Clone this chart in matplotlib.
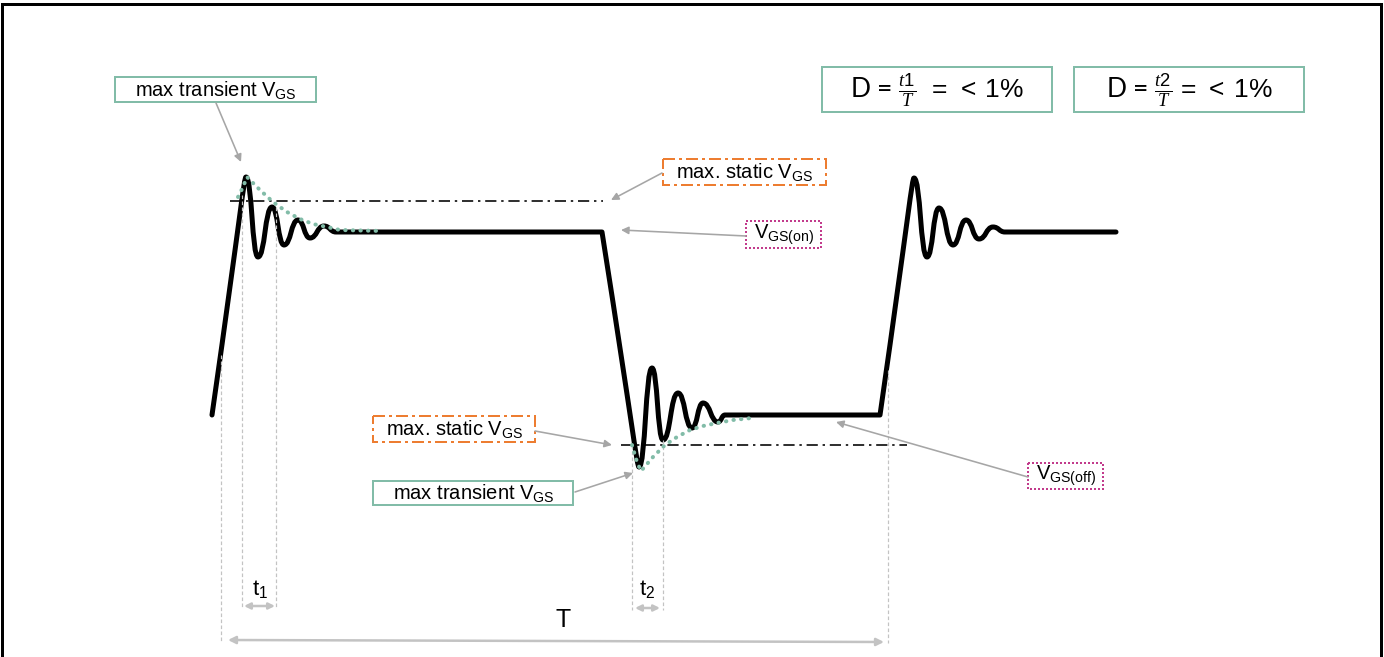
#!/usr/bin/env python3
"""Gate-source voltage waveform: transient overshoot vs. static limits."""
import matplotlib
matplotlib.use("Agg")
import matplotlib.pyplot as plt
from matplotlib.path import Path
from matplotlib.patches import PathPatch, Rectangle

# waveform nodes in picture units (x right, y down); smooth=1 -> bezier with flat tangent
wave_x = [212, 246, 258, 272, 284, 298, 310, 324, 336, 602,
          639, 652, 663, 678, 692, 703, 718, 725, 880,
          914, 927, 939, 953, 966, 979, 993, 1005, 1116]
wave_y = [415, 177, 257, 207, 245, 220, 238, 226, 232, 232,
          467, 368, 440, 393, 428, 403, 422, 415, 415,
          178, 257, 208, 245, 220, 239, 227, 232, 232]
wave_smooth = [0, 1, 1, 1, 1, 1, 1, 1, 1, 0,
               1, 1, 1, 1, 1, 1, 1, 1, 0,
               1, 1, 1, 1, 1, 1, 1, 1, 0]

# decay envelopes (dotted green)
env_on_x = [238, 243, 247, 260, 273, 287, 300, 313, 327, 340, 383]
env_on_y = [197, 187, 177, 190, 202, 212, 219, 224, 227, 230, 231]
env_off_x = [632, 637, 641, 653, 665, 677, 690, 703, 717, 733, 752]
env_off_y = [445, 462, 471, 457, 445, 437, 430, 426, 423, 420, 418]

# static limits
static_on = 201
static_off = 445

# time markers
t_left, t_right = 221, 888
t1_edges = [242, 276]
t2_edges = [632, 663]

GREEN = "#82bca8"
ORANGE = "#ed7d31"
MAGENTA = "#c23b8c"
GREY = "#a6a6a6"
LIGHT = "#c3c3c3"
PX = 0.72  # points per pixel at dpi 100

plt.rcParams["font.family"] = ["Liberation Sans", "DejaVu Sans"]
plt.rcParams["mathtext.fontset"] = "custom"
plt.rcParams["mathtext.rm"] = "Liberation Sans"
plt.rcParams["mathtext.it"] = "Liberation Serif:italic"
plt.rcParams["mathtext.bf"] = "Liberation Sans:bold"


def wave_path(xs, ys, smooth):
    verts = [(xs[0], ys[0])]
    codes = [Path.MOVETO]
    for i in range(1, len(xs)):
        x0, y0 = xs[i - 1], ys[i - 1]
        x1, y1 = xs[i], ys[i]
        if smooth[i] and smooth[i - 1]:
            dx = (x1 - x0) * 0.5
            verts += [(x0 + dx, y0), (x1 - dx, y1), (x1, y1)]
            codes += [Path.CURVE4] * 3
        elif smooth[i]:
            # straight edge running into a rounded extremum
            k = 0.85
            verts += [(x0 + (x1 - x0) * k, y0 + (y1 - y0) * k), (x1 - 2, y1), (x1, y1)]
            codes += [Path.CURVE4] * 3
        else:
            verts.append((x1, y1))
            codes.append(Path.LINETO)
    return Path(verts, codes)


def box(ax, x0, y0, x1, y1, color, ls):
    ax.add_patch(Rectangle((x0, y0), x1 - x0, y1 - y0, fill=False,
                           edgecolor=color, lw=2 * PX, linestyle=ls))


def arrow(ax, start, end, color=GREY, lw=1.6, style="-|>", ms=11):
    ax.annotate("", xy=end, xytext=start,
                arrowprops=dict(arrowstyle=style, color=color, lw=lw * PX,
                                mutation_scale=ms, shrinkA=0, shrinkB=0))


fig = plt.figure(figsize=(13.84, 6.57), dpi=100)
ax = fig.add_axes([0, 0, 1, 1])
ax.set_xlim(0, 1384)
ax.set_ylim(657, 0)
ax.axis("off")

# frame
ax.plot([2, 2, 1381, 1381], [657, 4, 4, 657], color="black", lw=3 * PX,
        solid_joinstyle="miter")

# vertical dashed markers
vdash = dict(color=LIGHT, lw=1.2 * PX, linestyle=(0, (3, 2)))
ax.plot([t_left, t_left], [355, 641], **vdash)
ax.plot([t_right, t_right], [370, 643], **vdash)
ax.plot([t1_edges[0], t1_edges[0]], [195, 607], **vdash)
ax.plot([t1_edges[1], t1_edges[1]], [207, 607], **vdash)
ax.plot([t2_edges[0], t2_edges[0]], [445, 610], **vdash)
ax.plot([t2_edges[1], t2_edges[1]], [440, 610], **vdash)

# static limit lines
dashdot = dict(color="black", lw=1.6 * PX, linestyle=(0, (7, 3, 1.5, 3)))
ax.plot([230, 603], [static_on, static_on], **dashdot)
ax.plot([621, 907], [static_off, static_off], **dashdot)

# waveform
ax.add_patch(PathPatch(wave_path(wave_x, wave_y, wave_smooth), fill=False,
                       edgecolor="black", lw=5 * PX, capstyle="round",
                       joinstyle="round"))

# envelopes
dots = dict(color=GREEN, lw=4 * PX, linestyle=(0, (0.1, 1.8)),
            dash_capstyle="round")
ax.plot(env_on_x, env_on_y, **dots)
ax.plot(env_off_x, env_off_y, **dots)

# labels
lab = dict(fontsize=14.5, ha="center", va="center")
box(ax, 115, 77, 316, 102, GREEN, "-")
ax.text(216, 90, r"max transient V$_{\mathrm{GS}}$", **lab)
arrow(ax, (216, 103), (241, 162))

box(ax, 663, 159, 826, 185, ORANGE, (0, (6, 2, 1.5, 2)))
ax.text(745, 172, r"max. static V$_{\mathrm{GS}}$", **lab)
arrow(ax, (662, 173), (611, 200))

box(ax, 746, 221, 821, 248, MAGENTA, (0, (1, 1)))
ax.text(784, 235, r"V$_{\mathrm{GS(on)}}$", **lab)
arrow(ax, (746, 236), (621, 230))

box(ax, 373, 416, 535, 442, ORANGE, (0, (6, 2, 1.5, 2)))
ax.text(455, 429, r"max. static V$_{\mathrm{GS}}$", **lab)
arrow(ax, (535, 431), (612, 445))

box(ax, 373, 481, 573, 505, GREEN, "-")
ax.text(474, 493, r"max transient V$_{\mathrm{GS}}$", **lab)
arrow(ax, (575, 492), (633, 473))

box(ax, 1028, 463, 1103, 489, MAGENTA, (0, (1, 1)))
ax.text(1066, 476, r"V$_{\mathrm{GS(off)}}$", **lab)
arrow(ax, (1028, 477), (836, 422))

# duty cycle boxes
dfont = dict(fontsize=19, family=["Lato", "DejaVu Sans"], ha="center", va="center")
box(ax, 822, 67, 1052, 112, GREEN, "-")
ax.text(937, 90, r"D = $\frac{t1}{T}\;\;=\;<\;1\%$", **dfont)
box(ax, 1074, 67, 1304, 112, GREEN, "-")
ax.text(1189, 90, r"D = $\frac{t2}{T}\,=\;<\;1\%$", **dfont)

# time spans
arrow(ax, (t1_edges[0] + 2, 606), (t1_edges[1] - 1, 606), color=LIGHT, lw=2.5,
      style="<|-|>", ms=9)
arrow(ax, (t2_edges[0] + 3, 608), (t2_edges[1] - 3, 608), color=LIGHT, lw=2.5,
      style="<|-|>", ms=9)
arrow(ax, (t_left + 7, 640), (t_right - 4, 642), color=LIGHT, lw=2.5,
      style="<|-|>", ms=11)
ax.text(260, 589, r"t$_{\mathrm{1}}$", fontsize=16, ha="center", va="center")
ax.text(647, 589, r"t$_{\mathrm{2}}$", fontsize=16, ha="center", va="center")
ax.text(563, 620, "T", fontsize=18, ha="center", va="center")

fig.savefig("out.png", dpi=100)
